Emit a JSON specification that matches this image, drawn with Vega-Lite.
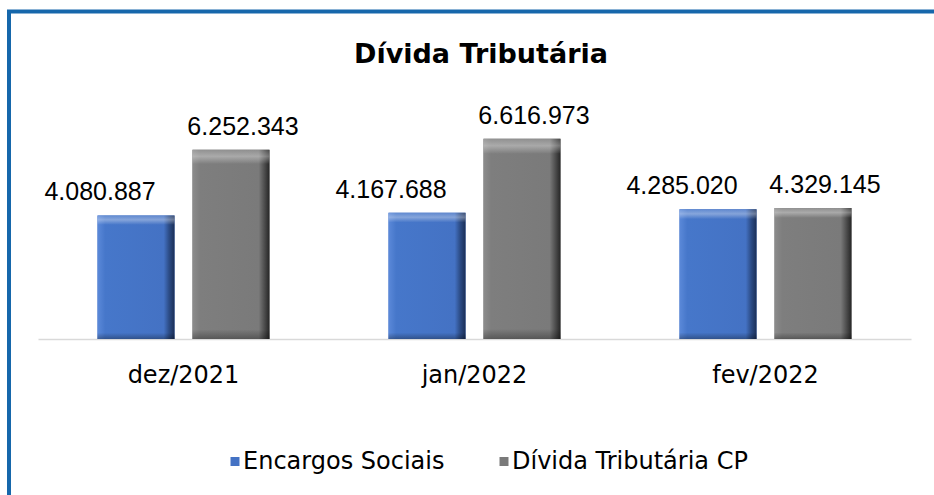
{
  "$schema": "https://vega.github.io/schema/vega-lite/v6.json",
  "autosize": {"type": "none"},
  "width": 1000,
  "height": 600,
  "padding": {"left": 9, "top": 11.5, "right": 0, "bottom": 0},
  "background": "white",
  "config": {
    "locale": {"number": {"decimal": ",", "thousands": ".", "grouping": [3], "currency": ["R$", ""]}},
    "view": {"stroke": "#1667AB", "strokeWidth": 4, "fill": "white"}
  },
  "title": {
    "text": "Dívida Tributária",
    "font": "DejaVu Sans",
    "fontSize": 27,
    "fontWeight": "bold",
    "color": "#000000",
    "anchor": "middle",
    "frame": "group",
    "baseline": "alphabetic",
    "dx": -28,
    "dy": 82
  },
  "data": {
    "values": [
      {"mes": "dez/2021", "serie": "Encargos Sociais", "valor": 4080887},
      {"mes": "dez/2021", "serie": "Dívida Tributária CP", "valor": 6252343},
      {"mes": "jan/2022", "serie": "Encargos Sociais", "valor": 4167688},
      {"mes": "jan/2022", "serie": "Dívida Tributária CP", "valor": 6616973},
      {"mes": "fev/2022", "serie": "Encargos Sociais", "valor": 4285020},
      {"mes": "fev/2022", "serie": "Dívida Tributária CP", "valor": 4329145}
    ]
  },
  "encoding": {
    "x": {
      "field": "mes",
      "type": "nominal",
      "scale": {"domain": ["dez/2021", "jan/2022", "fev/2022"], "range": [29, 902], "paddingInner": 0.409, "paddingOuter": 0.2045},
      "axis": {
        "title": null,
        "orient": "bottom",
        "offset": -272.5,
        "domainColor": "#D9D9D9",
        "domainWidth": 1.5,
        "ticks": false,
        "grid": false,
        "labelAngle": 0,
        "labelFont": "DejaVu Sans",
        "labelFontSize": 24,
        "labelColor": "#000000",
        "labelPadding": 24
      }
    },
    "xOffset": {
      "field": "serie",
      "type": "nominal",
      "scale": {"domain": ["Encargos Sociais", "Dívida Tributária CP"], "paddingInner": 0.189, "paddingOuter": 0}
    },
    "y": {
      "field": "valor",
      "type": "quantitative",
      "scale": {"domain": [0, 10820000], "range": [327.5, 0], "nice": false, "zero": true},
      "axis": null
    }
  },
  "layer": [
    {
      "mark": {"type": "bar"},
      "encoding": {
        "color": {
          "field": "serie",
          "type": "nominal",
          "scale": {"domain": ["Encargos Sociais", "Dívida Tributária CP"], "range": ["#4472C4", "#7A7A7A"]},
          "legend": {
            "title": null,
            "orient": "none",
            "legendX": 214,
            "legendY": 438,
            "direction": "horizontal",
            "symbolType": "square",
            "symbolSize": 81,
            "symbolStrokeWidth": 0,
            "labelFont": "DejaVu Sans",
            "labelFontSize": 24,
            "labelColor": "#000000",
            "labelLimit": 0,
            "labelOffset": -4,
            "columnPadding": 47
          }
        }
      }
    },
    {
      "transform": [{"filter": "datum.serie === 'Encargos Sociais'"}],
      "mark": {
        "type": "bar",
        "fill": {
          "gradient": "linear", "x1": 0, "x2": 1, "y1": 0, "y2": 0,
          "stops": [
            {"offset": 0, "color": "#5B89D9"},
            {"offset": 0.1, "color": "#4677CA"},
            {"offset": 0.86, "color": "#4472C4"},
            {"offset": 0.93, "color": "#2C4C86"},
            {"offset": 1, "color": "#1B2F57"}
          ]
        }
      }
    },
    {
      "transform": [{"filter": "datum.serie === 'Dívida Tributária CP'"}],
      "mark": {
        "type": "bar",
        "fill": {
          "gradient": "linear", "x1": 0, "x2": 1, "y1": 0, "y2": 0,
          "stops": [
            {"offset": 0, "color": "#8C8C8C"},
            {"offset": 0.1, "color": "#7E7E7E"},
            {"offset": 0.86, "color": "#7A7A7A"},
            {"offset": 0.93, "color": "#505050"},
            {"offset": 1, "color": "#262626"}
          ]
        }
      }
    },
    {
      "mark": {
        "type": "bar",
        "fill": {
          "gradient": "linear", "x1": 0, "x2": 0, "y1": 0, "y2": 1,
          "stops": [
            {"offset": 0, "color": "rgba(255,255,255,0.15)"},
            {"offset": 0.035, "color": "rgba(255,255,255,0.35)"},
            {"offset": 0.07, "color": "rgba(255,255,255,0.05)"},
            {"offset": 0.075, "color": "rgba(255,255,255,0)"},
            {"offset": 0.95, "color": "rgba(0,0,0,0)"},
            {"offset": 1, "color": "rgba(0,0,0,0.3)"}
          ]
        }
      }
    },
    {
      "transform": [{"filter": "datum.serie === 'Encargos Sociais'"}],
      "mark": {"type": "text", "font": "Liberation Sans", "fontSize": 25, "color": "#000000", "baseline": "alphabetic", "dx": -36, "dy": -15},
      "encoding": {"text": {"field": "valor", "type": "quantitative", "format": ",d"}}
    },
    {
      "transform": [{"filter": "datum.serie === 'Dívida Tributária CP'"}],
      "mark": {"type": "text", "font": "Liberation Sans", "fontSize": 25, "color": "#000000", "baseline": "alphabetic", "dx": 12, "dy": -15},
      "encoding": {"text": {"field": "valor", "type": "quantitative", "format": ",d"}}
    }
  ]
}
